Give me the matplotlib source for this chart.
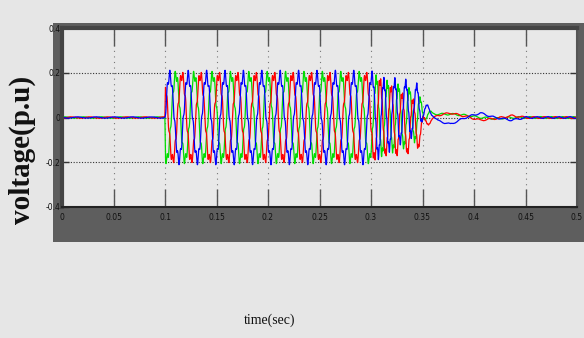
import numpy as np
import matplotlib
matplotlib.use('Agg')
import matplotlib.pyplot as plt
from matplotlib.patches import Rectangle

# envelope of the oscillation
env_t = [0.0, 0.0999, 0.1005, 0.300, 0.310, 0.330, 0.345, 0.352, 0.360, 0.500]
env_a = [0.003, 0.003, 0.20, 0.20, 0.17, 0.14, 0.11, 0.03, 0.004, 0.004]

# apparent oscillation frequency (Hz) read from peak spacing
freq_t = [0.0, 0.300, 0.306, 0.500]
freq_v = [56.0, 56.0, 94.0, 94.0]

# slow (offset) part of each phase around and after fault clearing
slow_t = [0.0, 0.310, 0.330, 0.350, 0.355, 0.365, 0.377, 0.392, 0.406, 0.420, 0.437, 0.450, 0.500]
blue_slow = [0, 0, 0.03, 0.04, 0.035, -0.015, -0.03, 0.0, 0.02, 0.0, -0.012, 0, 0]
red_slow = [0, 0, -0.03, -0.04, -0.02, 0.01, 0.02, 0.005, -0.012, -0.005, 0.008, 0, 0]
green_slow = [0, 0, 0.0, 0.01, 0.02, 0.015, 0.015, 0.01, 0.0, -0.005, 0, 0, 0]

phase_deg = {'green': 20, 'red': 260, 'blue': 140}
ripple = 0.12

xticks = [0, 0.05, 0.1, 0.15, 0.2, 0.25, 0.3, 0.35, 0.4, 0.45, 0.5]
xticklabels = ['0', '0.05', '0.1', '0.15', '0.2', '0.25', '0.3', '0.35', '0.4', '0.45', '0.5']
yticks = [-0.4, -0.2, 0, 0.2, 0.4]
yticklabels = ['-0.4', '-0.2', '0', '0.2', '0.4']

dt = 1e-4
t = np.arange(0, 0.5, dt)
env = np.interp(t, env_t, env_a)
theta = 2 * np.pi * np.cumsum(np.interp(t, freq_t, freq_v)) * dt

def phase(name, slow):
    ph = np.deg2rad(phase_deg[name])
    s = np.sin(theta + ph) + ripple * np.sin(7 * theta + 3 * ph)
    return env * s / (1 + ripple * 0.5) + np.interp(t, slow_t, slow)

W, H = 584, 338
fig = plt.figure(figsize=(W / 100, H / 100), dpi=100)
fig.patch.set_facecolor('#e6e6e6')

# dark panel behind the axes
fig.patches.append(Rectangle((53 / W, (H - 242) / H), (W - 53) / W, (242 - 23) / H,
                             transform=fig.transFigure, facecolor='#5e5e5e',
                             edgecolor='none', zorder=-5))

ax = fig.add_axes([62 / W, (H - 207) / H, (577 - 62) / W, (207 - 28) / H])
ax.set_zorder(2)
ax.set_facecolor('#e8e8e8')

ax.plot(t, phase('green', green_slow), color='#00dd00', lw=0.9)
ax.plot(t, phase('red', red_slow), color='#ff0000', lw=0.9)
ax.plot(t, phase('blue', blue_slow), color='#0000ff', lw=0.9)

ax.set_xlim(0, 0.5)
ax.set_ylim(-0.4, 0.4)
ax.set_xticks(xticks)
ax.set_xticklabels(xticklabels)
ax.set_yticks(yticks)
ax.set_yticklabels(yticklabels)

tick_family = ['Liberation Sans Narrow', 'DejaVu Sans']
for lab in ax.get_xticklabels() + ax.get_yticklabels():
    lab.set_fontfamily(tick_family)
    lab.set_fontsize(5.5)
    lab.set_color('#111111')

ax.tick_params(axis='x', direction='in', length=13, width=1.0, color='#555555',
               top=True, pad=4)
ax.tick_params(axis='y', direction='in', length=5, width=1.0, color='#333333',
               right=True, pad=1)

ax.xaxis.grid(True, linestyle=(0, (1, 4)), color='#777777', lw=0.8)
ax.yaxis.grid(True, linestyle=(0, (1, 1.5)), color='#333333', lw=0.8)
ax.set_axisbelow(True)

for side in ['top', 'left']:
    ax.spines[side].set_color('#444444')
    ax.spines[side].set_linewidth(3)
ax.spines['bottom'].set_color('#222222')
ax.spines['bottom'].set_linewidth(1.5)
ax.spines['right'].set_color('#555555')
ax.spines['right'].set_linewidth(1.5)

fig.text(22 / W, (H - 150) / H, 'voltage(p.u)', rotation=90, ha='center', va='center',
         family='Liberation Serif', fontweight='bold', fontsize=21, color='#111111')
fig.text(270 / W, (H - 320) / H, 'time(sec)', ha='center', va='center',
         family='Liberation Serif', fontsize=10, color='#111111')

fig.savefig('out.png', dpi=100, facecolor=fig.get_facecolor())
